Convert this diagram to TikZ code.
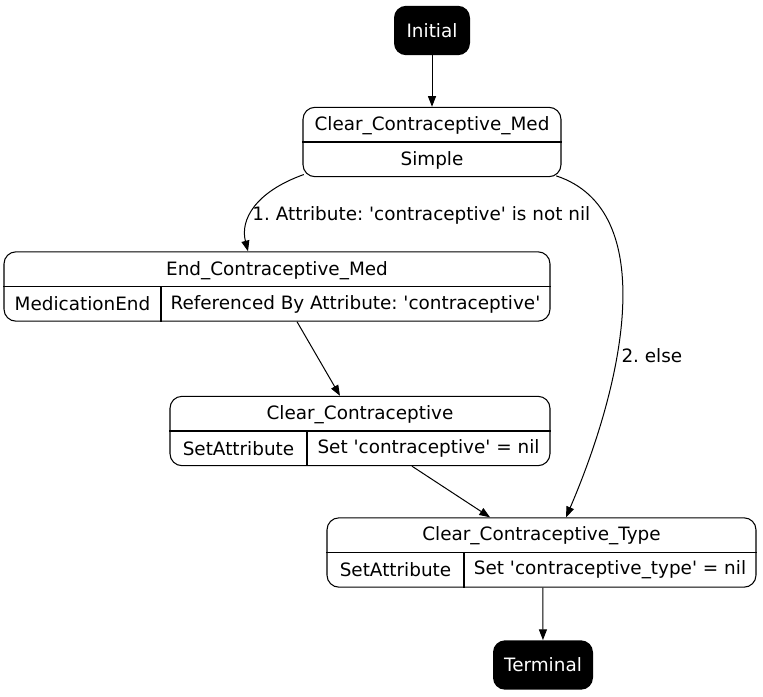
\documentclass[tikz,border=0pt]{standalone}
\usepackage{fontspec}
\setmainfont{DejaVu Sans}[Ligatures=TeXOff]
\usetikzlibrary{arrows.meta, positioning}

\begin{document}
\frenchspacing
\begin{tikzpicture}[x=0.75pt, y=-0.75pt,
	every node/.style={font=\fontsize{13.8}{16}\selectfont},
	state/.style={rectangle, rounded corners=9pt, fill=black, text=white, inner sep=0pt, minimum height=37pt},
	record/.style={rectangle, rounded corners=9pt, draw, line width=0.8pt, inner sep=0pt, minimum height=52pt},
	divider/.style={line width=0.8pt},
	arrow/.style={line width=0.75pt, -{Triangle[length=8pt, width=6pt]}}
	]
	\useasboundingbox (0,0) rectangle (763,696);
	
	% Nodes
	\node[state, minimum width=57pt] (initial) at (432,30.5) {Initial};
	\node[record, minimum width=193.5pt] (ccm) at (432,142) {};
	\node[record, minimum width=409.5pt] (ecm) at (277,286.5) {};
	\node[record, minimum width=285pt] (cc) at (360,431) {};
	\node[record, minimum width=321.75pt] (cct) at (541.5,552.5) {};
	\node[state, minimum width=75pt] (terminal) at (543,665) {Terminal};
	
	% Record texts
	\node (ccmname) at (432,126) {Clear\_Contraceptive\_Med};
	\node (ccmtype) at (432,160) {Simple};
	\node (ecmname) at (277,270.5) {End\_Contraceptive\_Med};
	\node (ecmtype) at (82.5,304) {MedicationEnd};
	\node (ecmdesc) at (355.5,304) {Referenced By Attribute: 'contraceptive'};
	\node (ccname) at (360,414.5) {Clear\_Contraceptive};
	\node (cctype) at (238.5,448.5) {SetAttribute};
	\node (ccdesc) at (428.5,448.5) {Set 'contraceptive' = nil};
	\node (cctname) at (541.5,536) {Clear\_Contraceptive\_Type};
	\node (ccttype) at (395.5,570) {SetAttribute};
	\node (cctdesc) at (610,570) {Set 'contraceptive\_type' = nil};
	
	% Dividers
	\coordinate (ecmcut) at (161,0);
	\coordinate (cccut) at (307,0);
	\coordinate (cctcut) at (464,0);
	\draw[divider] (ccm.west) -- (ccm.east);
	\draw[divider] (ecm.west) -- (ecm.east);
	\draw[divider] (ecm.center -| ecmcut) -- (ecm.south -| ecmcut);
	\draw[divider] (cc.west) -- (cc.east);
	\draw[divider] (cc.center -| cccut) -- (cc.south -| cccut);
	\draw[divider] (cct.west) -- (cct.east);
	\draw[divider] (cct.center -| cctcut) -- (cct.south -| cctcut);
	
	% Arrows
	\draw[arrow] (initial) -- (ccm);
	\draw[arrow] ([xshift=1pt, yshift=2pt]ccm.south west) .. controls (255,192) and (240,220) .. ([xshift=-21.75pt]ecm.north)
		node[pos=0.6, right, xshift=-2pt] {1. Attribute: 'contraceptive' is not nil};
	\draw[arrow] ([xshift=-4pt, yshift=1pt]ccm.south east) .. controls (660,210) and (625,380) .. ([xshift=18.4pt]cct.north)
		node[pos=0.62, right] {2. else};
	\draw[arrow] ([xshift=15pt]ecm.south) -- ([xshift=-15pt]cc.north);
	\draw[arrow] ([xshift=39pt]cc.south) -- ([xshift=-38.6pt]cct.north);
	\draw[arrow] ([xshift=1pt]cct.south) -- (terminal);
\end{tikzpicture}
\end{document}
